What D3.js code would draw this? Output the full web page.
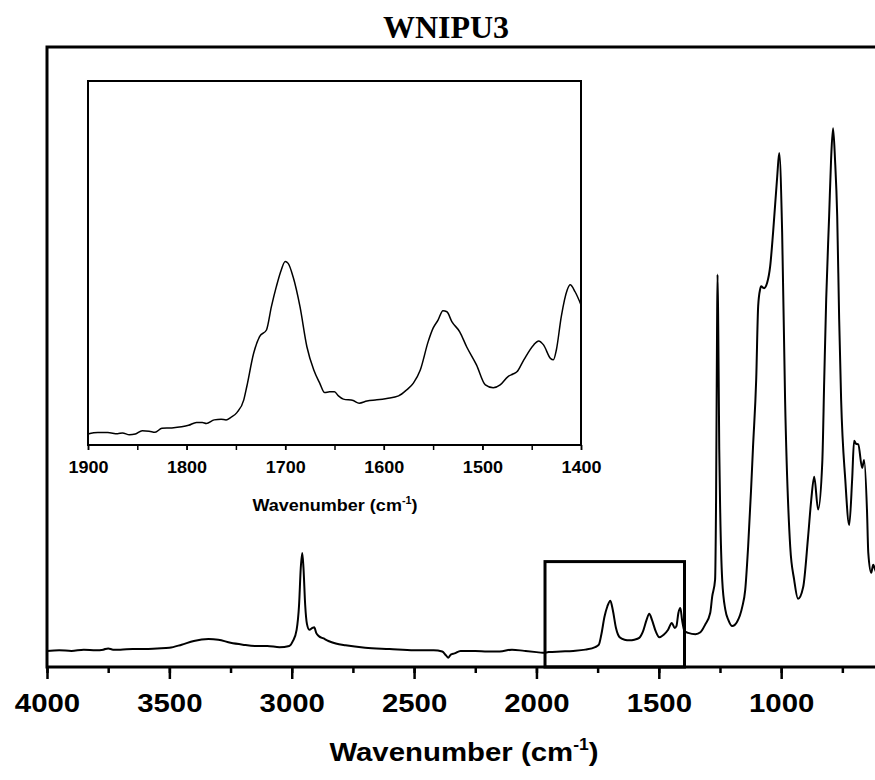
<!DOCTYPE html>
<html>
<head>
<meta charset="utf-8">
<script src="https://cdn.jsdelivr.net/npm/d3@7/dist/d3.min.js"></script>
<style>
  body { margin: 0; background: #fff; }
  svg { display: block; }
</style>
</head>
<body>
<div id="wrapper"></div>
<script>
// full FTIR spectrum (arbitrary absorbance units, 0-100)
const wavenumbers = [4000, 3950, 3900, 3850, 3800, 3770, 3750, 3730, 3700, 3650, 3600, 3550, 3500, 3450, 3400, 3340, 3300, 3250, 3200, 3150, 3100, 3050, 3010, 2995, 2980, 2970, 2963, 2957, 2952, 2945, 2938, 2928, 2915, 2908, 2900, 2890, 2870, 2850, 2820, 2780, 2700, 2600, 2500, 2420, 2385, 2370, 2360, 2350, 2335, 2310, 2250, 2200, 2150, 2100, 2050, 2000, 1975, 1950, 1900, 1850, 1800, 1760, 1745, 1735, 1722, 1710, 1698, 1688, 1675, 1660, 1640, 1620, 1600, 1580, 1565, 1550, 1539, 1528, 1512, 1498, 1480, 1462, 1447, 1435, 1428, 1420, 1412, 1405, 1395, 1380, 1350, 1330, 1311, 1290, 1282, 1270, 1266, 1262, 1260, 1257, 1253, 1249, 1241, 1228, 1216, 1200, 1180, 1159, 1147, 1135, 1123, 1115, 1102, 1094, 1086, 1082, 1070, 1057, 1045, 1033, 1016, 1008, 996, 984, 963, 947, 931, 910, 890, 877, 865, 849, 832, 824, 816, 804, 796, 788, 780, 771, 763, 755, 738, 722, 710, 702, 694, 685, 669, 661, 649, 644, 632, 624, 616, 600]
const absorbance = [2.6, 2.7, 2.6, 2.8, 2.7, 2.8, 3.0, 2.8, 2.8, 2.9, 2.9, 3.0, 3.1, 3.6, 4.2, 4.5, 4.4, 3.9, 3.6, 3.4, 3.4, 3.2, 3.4, 4.2, 6.0, 10.0, 16.0, 18.4, 16.0, 10.0, 7.0, 6.0, 6.3, 6.4, 5.5, 5.0, 4.6, 4.2, 3.8, 3.5, 3.1, 2.9, 2.7, 2.7, 2.5, 1.9, 1.5, 2.0, 2.2, 2.6, 2.6, 2.5, 2.5, 2.8, 2.6, 2.4, 2.3, 2.4, 2.5, 2.6, 2.8, 3.2, 3.6, 5.2, 8.1, 9.8, 10.7, 9.2, 6.3, 4.8, 4.4, 4.3, 4.4, 4.7, 5.7, 7.6, 8.6, 7.6, 5.7, 4.8, 5.2, 6.0, 7.1, 6.3, 6.6, 8.7, 9.5, 7.6, 5.8, 5.5, 5.3, 5.6, 6.8, 8.7, 11.3, 14.1, 27.0, 54.4, 63.3, 54.4, 35.1, 24.9, 14.1, 9.2, 7.6, 6.6, 7.3, 9.7, 12.4, 19.4, 28.6, 35.5, 46.4, 58.2, 60.9, 61.4, 61.1, 62.0, 64.6, 70.1, 79.2, 82.9, 70.1, 43.1, 19.4, 14.1, 11.0, 12.9, 21.0, 27.0, 30.7, 25.4, 33.0, 46.4, 59.3, 72.7, 81.9, 86.9, 81.9, 72.7, 56.1, 43.1, 30.2, 22.9, 30.2, 36.5, 36.0, 35.9, 32.1, 33.4, 24.9, 18.4, 15.2, 16.5, 15.7, 14.0]

// enlarged 1900-1400 region (inset units, 0-100)
const insetWavenumbers = [1900, 1890, 1880, 1870, 1865, 1858, 1852, 1845, 1838, 1832, 1825, 1815, 1805, 1798, 1790, 1784, 1780, 1772, 1765, 1760, 1755, 1749, 1742, 1739, 1732, 1726, 1719, 1714, 1709, 1704, 1700, 1697, 1692, 1685, 1678, 1671, 1665, 1660, 1655, 1650, 1646, 1641, 1631, 1625, 1617, 1607, 1597, 1585, 1577, 1570, 1563, 1555, 1550, 1545, 1540, 1536, 1531, 1523, 1516, 1506, 1497, 1489, 1482, 1474, 1469, 1465, 1458, 1448, 1443, 1438, 1431, 1428, 1425, 1420, 1414, 1411, 1406, 1400]
const insetAbsorbance = [3.0, 3.4, 3.4, 3.1, 3.3, 2.8, 3.0, 3.9, 3.8, 3.5, 4.6, 4.7, 5.0, 5.4, 6.2, 6.2, 5.9, 6.9, 7.1, 6.9, 7.6, 8.9, 12.4, 16.0, 25.2, 29.8, 31.6, 38.0, 43.5, 48.1, 50.4, 49.9, 46.2, 38.0, 27.0, 20.6, 17.0, 14.4, 14.6, 14.6, 13.5, 12.6, 12.2, 11.5, 12.1, 12.4, 12.8, 13.5, 15.1, 17.0, 20.6, 28.4, 32.1, 34.3, 36.9, 36.6, 33.9, 31.1, 27.0, 22.0, 16.5, 15.7, 16.5, 18.8, 19.5, 20.1, 23.4, 27.5, 28.6, 27.5, 23.8, 23.4, 26.1, 35.3, 42.6, 44.0, 42.1, 38.5]

const mainTicks = [4000, 3500, 3000, 2500, 2000, 1500, 1000]
const insetTicks = [1900, 1800, 1700, 1600, 1500, 1400]
const zoomRegion = [1965, 1395]
const zoomRegionTop = 17
const chartTitle = "WNIPU3"

const sans = "Arial, 'Liberation Sans', sans-serif"
const serif = "'Times New Roman', 'Liberation Serif', serif"

const width = 875
const height = 780

const svg = d3.select("#wrapper")
  .append("svg")
    .attr("width", width)
    .attr("height", height)

// main plot
const plot = { left: 47, top: 47, right: 928, bottom: 667 }

const xScale = d3.scaleLinear()
  .domain([4000, 400])
  .range([plot.left, plot.right])

const yScale = d3.scaleLinear()
  .domain([0, 100])
  .range([plot.bottom, plot.top])

const mainData = wavenumbers.map((w, i) => ({ w, a: absorbance[i] }))

const lineGenerator = d3.line()
  .x(d => xScale(d.w))
  .y(d => yScale(d.a))
  .curve(d3.curveMonotoneX)

svg.append("path")
    .datum(mainData)
    .attr("d", lineGenerator)
    .attr("fill", "none")
    .attr("stroke", "#000")
    .attr("stroke-width", 2)
    .attr("stroke-linejoin", "round")

// zoom marker box
svg.append("rect")
    .attr("x", xScale(zoomRegion[0]))
    .attr("y", yScale(zoomRegionTop))
    .attr("width", xScale(zoomRegion[1]) - xScale(zoomRegion[0]))
    .attr("height", yScale(0) - yScale(zoomRegionTop))
    .attr("fill", "none")
    .attr("stroke", "#000")
    .attr("stroke-width", 3)

// minor ticks
const minorAxis = svg.append("g")
    .attr("transform", `translate(0, ${plot.bottom})`)
    .call(d3.axisBottom(xScale)
      .tickValues(d3.range(4000, 399, -250))
      .tickSize(6)
      .tickFormat(""))
minorAxis.select(".domain").remove()
minorAxis.selectAll("line").attr("stroke-width", 2.5)

const xAxis = svg.append("g")
    .attr("transform", `translate(0, ${plot.bottom})`)
    .call(d3.axisBottom(xScale)
      .tickValues(mainTicks)
      .tickSize(12)
      .tickFormat(d3.format("d")))
xAxis.select(".domain").remove()
xAxis.selectAll("line").attr("stroke-width", 2.5)
xAxis.selectAll("text")
    .attr("y", 45)
    .attr("dy", null)
    .attr("transform", "scale(1.13,1)")
    .style("font-family", sans)
    .style("font-size", "26px")
    .style("font-weight", "bold")
    .attr("fill", "#000")

// frame
svg.append("rect")
    .attr("x", plot.left)
    .attr("y", plot.top)
    .attr("width", plot.right - plot.left)
    .attr("height", plot.bottom - plot.top)
    .attr("fill", "none")
    .attr("stroke", "#000")
    .attr("stroke-width", 3)

const addAxisTitle = (x, y, size, sx) => {
  const t = svg.append("text")
      .attr("transform", `translate(${x}, ${y}) scale(${sx},1)`)
      .attr("text-anchor", "middle")
      .style("font-family", sans)
      .style("font-size", `${size}px`)
      .style("font-weight", "bold")
  t.append("tspan").text("Wavenumber (cm")
  t.append("tspan").text("-1")
      .style("font-size", `${size * 0.6}px`)
      .attr("dy", -size * 0.42)
  t.append("tspan").text(")")
      .attr("dy", size * 0.42)
}
addAxisTitle(464, 761, 26, 1.13)

// title
svg.append("text")
    .attr("x", 446)
    .attr("y", 38)
    .attr("text-anchor", "middle")
    .style("font-family", serif)
    .style("font-size", "32px")
    .style("font-weight", "bold")
    .text(chartTitle)

// inset
const inset = { left: 88, top: 81, right: 581, bottom: 445 }

const insetX = d3.scaleLinear()
  .domain([1900, 1400])
  .range([inset.left, inset.right])

const insetY = d3.scaleLinear()
  .domain([0, 100])
  .range([inset.bottom, inset.top])

const insetData = insetWavenumbers.map((w, i) => ({ w, a: insetAbsorbance[i] }))

svg.append("rect")
    .attr("x", inset.left)
    .attr("y", inset.top)
    .attr("width", inset.right - inset.left)
    .attr("height", inset.bottom - inset.top)
    .attr("fill", "#fff")
    .attr("stroke", "none")

svg.append("path")
    .datum(insetData)
    .attr("d", d3.line()
      .x(d => insetX(d.w))
      .y(d => insetY(d.a))
      .curve(d3.curveMonotoneX))
    .attr("fill", "none")
    .attr("stroke", "#000")
    .attr("stroke-width", 1.5)
    .attr("stroke-linejoin", "round")

const insetMinor = svg.append("g")
    .attr("transform", `translate(0, ${inset.bottom})`)
    .call(d3.axisBottom(insetX)
      .tickValues(d3.range(1900, 1399, -50))
      .tickSize(5)
      .tickFormat(""))
insetMinor.select(".domain").remove()
insetMinor.selectAll("line").attr("stroke-width", 1.5)

const insetAxis = svg.append("g")
    .attr("transform", `translate(0, ${inset.bottom})`)
    .call(d3.axisBottom(insetX)
      .tickValues(insetTicks)
      .tickSize(5)
      .tickFormat(d3.format("d")))
insetAxis.select(".domain").remove()
insetAxis.selectAll("line").attr("stroke-width", 1.5)
insetAxis.selectAll("text")
    .attr("y", 28)
    .attr("dy", null)
    .attr("transform", "scale(1.06,1)")
    .style("font-family", sans)
    .style("font-size", "17px")
    .style("font-weight", "bold")
    .attr("fill", "#000")

svg.append("rect")
    .attr("x", inset.left)
    .attr("y", inset.top)
    .attr("width", inset.right - inset.left)
    .attr("height", inset.bottom - inset.top)
    .attr("fill", "none")
    .attr("stroke", "#000")
    .attr("stroke-width", 2)

addAxisTitle(335, 511, 17, 1.06)
</script>
</body>
</html>
